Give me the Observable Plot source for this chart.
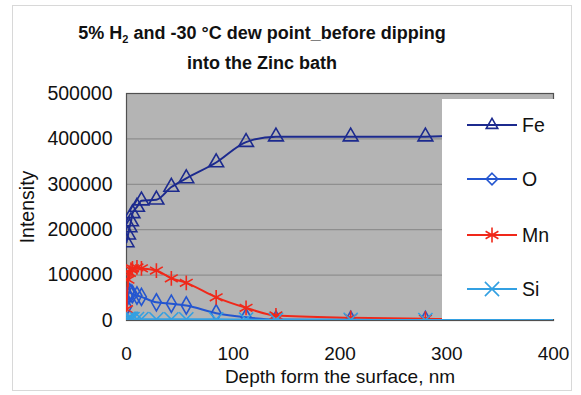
<!DOCTYPE html>
<html><head><meta charset="utf-8">
<script src="https://cdn.jsdelivr.net/npm/d3@7"></script>
<script src="https://cdn.jsdelivr.net/npm/@observablehq/plot@0.6"></script>
<style>
body{margin:0;background:#fff;font-family:"Liberation Sans",Arial,sans-serif;}
#wrap{position:relative;width:581px;height:395px;overflow:hidden;}
#frame{position:absolute;left:12px;top:5px;width:558px;height:384px;border:1px solid #d8d8d8;}
#title{position:absolute;left:0;top:18px;width:524px;text-align:center;font-weight:bold;font-size:18px;line-height:30px;color:#111;}
#title sub{font-size:11px;vertical-align:-4px;line-height:0;}
#chart{position:absolute;left:0;top:0;}
#legend{position:absolute;left:442px;top:99px;width:123px;height:220px;background:#fff;}
</style></head>
<body><div id="wrap"><div id="frame"></div>
<div id="title">5% H<sub>2</sub> and -30 °C dew point_before dipping<br>into the Zinc bath</div>
<div id="chart"></div><div id="legend"></div></div>
<script>
const depth = [0, 1.4, 2.8, 4.2, 5.6, 9.8, 14, 28, 42, 56, 84, 112, 140, 210, 280, 350, 420];
const Fe = [172000, 189000, 205000, 218000, 236000, 250000, 264000, 266000, 294000, 313000, 348000, 393000, 405000, 405000, 405000, 412000, 412000];
const O  = [30000, 55000, 62000, 60000, 58000, 55000, 52000, 40000, 37000, 33000, 16000, 7000, 2000, 1500, 1000, 1000, 1000];
const Mn = [25000, 90000, 105000, 112000, 115000, 117000, 115000, 110000, 93000, 83000, 51000, 28000, 11000, 6000, 4000, 2000, 2000];
const Si = [2000, 3000, 4000, 3500, 3000, 3000, 3000, 2500, 2500, 2500, 2500, 2000, 1500, 1500, 1000, 1000, 1000];
const seriesNames = ["Fe", "O", "Mn", "Si"];
const seriesValues = [Fe, O, Mn, Si];
const colors = ["#1c2a8e", "#2456d0", "#f0281a", "#33a0e2"];
const symbols = ["triangle", "diamond", "asterisk", "times"];
const radii = [5.5, 5.2, 7, 6.5];
const xTicks = [0, 100, 200, 300, 400];
const yTicks = [0, 100000, 200000, 300000, 400000, 500000];

const rows = [];
seriesNames.forEach((s, i) => depth.forEach((d, j) => rows.push({series: s, depth: d, value: seriesValues[i][j]})));

const marks = [
  Plot.frame({fill: "#b4b4b4"}),
  Plot.gridY(yTicks, {stroke: "#7a7a7a", strokeOpacity: 0.8, strokeWidth: 1}),
  Plot.frame({stroke: "#505050", strokeWidth: 1.2}),
  Plot.axisY(yTicks, {tickSize: 0, tickPadding: 14, fontSize: 19.5, tickFormat: d3.format("d"), label: "Intensity", labelArrow: "none", labelAnchor: "center", labelOffset: 106}),
  Plot.axisX(xTicks, {tickSize: 0, tickPadding: 26, fontSize: 19, label: "Depth form the surface, nm", labelArrow: "none", labelAnchor: "center", labelOffset: 62})
];
seriesNames.forEach((s, i) => {
  const data = rows.filter(r => r.series === s);
  marks.push(Plot.line(data, {x: "depth", y: "value", stroke: colors[i], strokeWidth: 2, curve: "monotone-x", clip: true}));
  marks.push(Plot.dot(data, {x: "depth", y: "value", stroke: colors[i], fill: "none", symbol: symbols[i], r: radii[i], strokeWidth: 1.6, clip: true}));
});

const chart = Plot.plot({
  width: 581, height: 395,
  marginTop: 93, marginLeft: 126, marginRight: 28, marginBottom: 75,
  style: {fontFamily: "'Liberation Sans', Arial, sans-serif", color: "#111", background: "transparent", fontSize: "19px"},
  x: {domain: [0, 400]},
  y: {domain: [0, 500000]},
  symbol: {domain: symbols, range: symbols},
  marks
});
document.getElementById("chart").appendChild(chart);

// legend
const lg = d3.select("#legend").append("svg").attr("width", 123).attr("height", 220);
const yPos = [26, 80, 136, 190];
const symMap = {triangle: d3.symbolTriangle2, diamond: d3.symbolDiamond2, asterisk: d3.symbolAsterisk, times: d3.symbolTimes};
seriesNames.forEach((s, i) => {
  const g = lg.append("g").attr("transform", `translate(0,${yPos[i]})`);
  g.append("line").attr("x1", 25).attr("x2", 75).attr("stroke", colors[i]).attr("stroke-width", 2);
  const area = radii[i] ** 2 * Math.PI;
  g.append("path").attr("d", d3.symbol(symMap[symbols[i]], area)()).attr("transform", "translate(50,0)")
    .attr("fill", "none").attr("stroke", colors[i]).attr("stroke-width", 1.6);
  g.append("text").attr("x", 80).attr("dy", "0.35em").attr("font-size", 19.5).attr("fill", "#111")
    .attr("font-family", "'Liberation Sans', Arial, sans-serif").text(s);
});
</script></body></html>
